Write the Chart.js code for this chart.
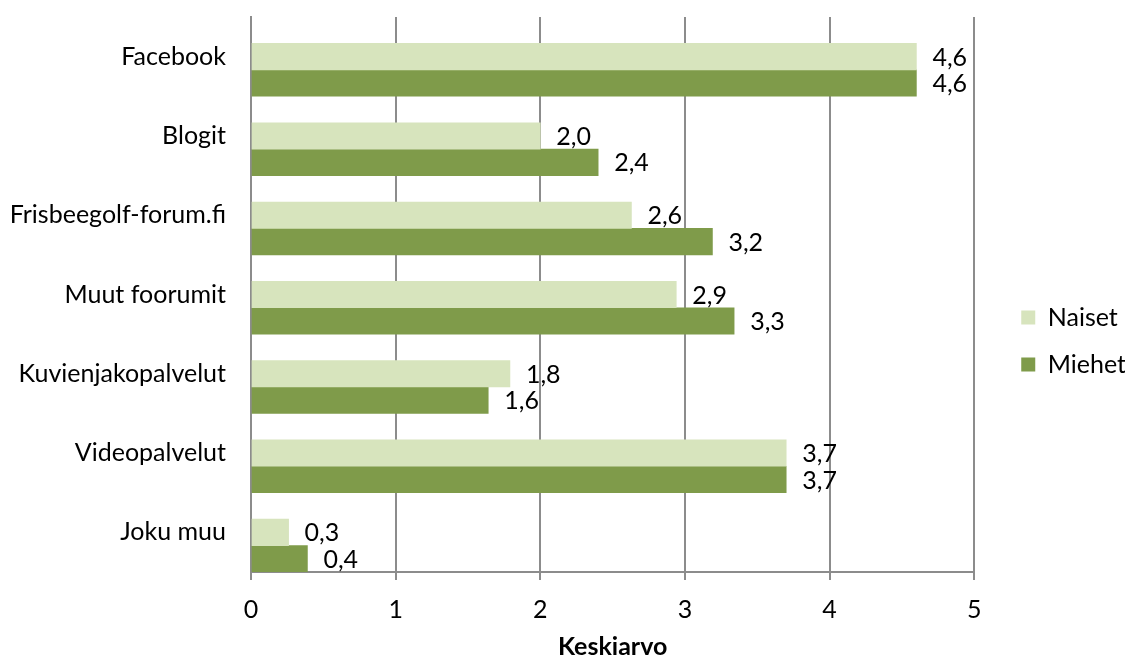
<!DOCTYPE html>
<html>
<head>
<meta charset="utf-8">
<script src="https://cdn.jsdelivr.net/npm/chart.js@4"></script>
<style>
  body { margin: 0; background: #fff; }
</style>
</head>
<body>
<canvas id="myBarChart" width="1125" height="659"></canvas>
<script>
// categories and values
const categories = ['Facebook', 'Blogit', 'Frisbeegolf-forum.fi', 'Muut foorumit', 'Kuvienjakopalvelut', 'Videopalvelut', 'Joku muu'];
const naiset = [4.6, 2.0, 2.63, 2.94, 1.79, 3.7, 0.26];
const miehet = [4.6, 2.4, 3.19, 3.34, 1.64, 3.7, 0.39];
const xTicks = [0, 1, 2, 3, 4, 5];
// empty slot on top of each group (the original has one)
const spacer = categories.map(() => null);

const FONT = 'Lato, Calibri, sans-serif';

//draw the value next to the end of each bar
const valueLabels = {
	id: 'valueLabels',
	afterDatasetsDraw(chart) {
		const ctx = chart.ctx;
		ctx.save();
		ctx.font = '25px ' + FONT;
		ctx.fillStyle = '#000';
		ctx.textAlign = 'left';
		ctx.textBaseline = 'middle';
		chart.data.datasets.forEach((ds, i) => {
			if (!ds.label) return;
			chart.getDatasetMeta(i).data.forEach((bar, j) => {
				const v = ds.data[j];
				if (v == null) return;
				ctx.fillText(v.toFixed(1).replace('.', ','), bar.x + 16, bar.y + 1);
			});
		});
		ctx.restore();
	}
};

//move the legend a bit to the right, away from the plot
const legendShift = {
	id: 'legendShift',
	afterLayout(chart) {
		const lg = chart.legend;
		lg.left += 25;
		lg.right += 25;
		lg.top += 3;
		lg.bottom += 3;
	}
};

const ctx = document.getElementById('myBarChart').getContext('2d');
new Chart(ctx, {
	type: 'bar',
	data: {
		labels: categories,
		datasets: [{
			label: '',
			data: spacer,
			backgroundColor: 'rgba(0,0,0,0)'
		}, {
			label: 'Naiset',
			data: naiset,
			backgroundColor: '#d7e4bd'
		}, {
			label: 'Miehet',
			data: miehet,
			backgroundColor: '#7f9b4a'
		}]
	},
	options: {
		indexAxis: 'y',
		responsive: false,
		animation: false,
		devicePixelRatio: 1,
		categoryPercentage: 1,
		barPercentage: 1,
		layout: {
			padding: { top: 17, right: 14, left: 0, bottom: 0 }
		},
		plugins: {
			tooltip: { enabled: false },
			legend: {
				position: 'right',
				labels: {
					filter: (item) => item.text !== '',
					boxWidth: 14,
					boxHeight: 14,
					padding: 22,
					color: '#000',
					font: { family: FONT, size: 25 }
				}
			}
		},
		scales: {
			x: {
				min: 0,
				max: 5,
				afterBuildTicks: (scale) => { scale.ticks = xTicks.map(v => ({ value: v })); },
				afterFit: (scale) => { scale.height = 87; },
				grid: {
					color: '#8c8c8c',
					lineWidth: 2,
					tickLength: 8
				},
				border: { color: '#8c8c8c', width: 2 },
				ticks: {
					color: '#000',
					padding: 15,
					font: { family: FONT, size: 25 }
				},
				title: {
					display: true,
					text: 'Keskiarvo',
					color: '#000',
					font: { family: FONT, size: 25, weight: 'bold', lineHeight: 1 },
					padding: { top: 4, bottom: 0 }
				}
			},
			y: {
				afterFit: (scale) => {
					scale.width = 251;
					scale.paddingTop = 0;
					scale.paddingBottom = 0;
				},
				grid: { display: false },
				border: { color: '#8c8c8c', width: 2 },
				ticks: {
					color: '#000',
					padding: 17,
					font: { family: FONT, size: 25 }
				}
			}
		}
	},
	plugins: [valueLabels, legendShift]
});
</script>
</body>
</html>
